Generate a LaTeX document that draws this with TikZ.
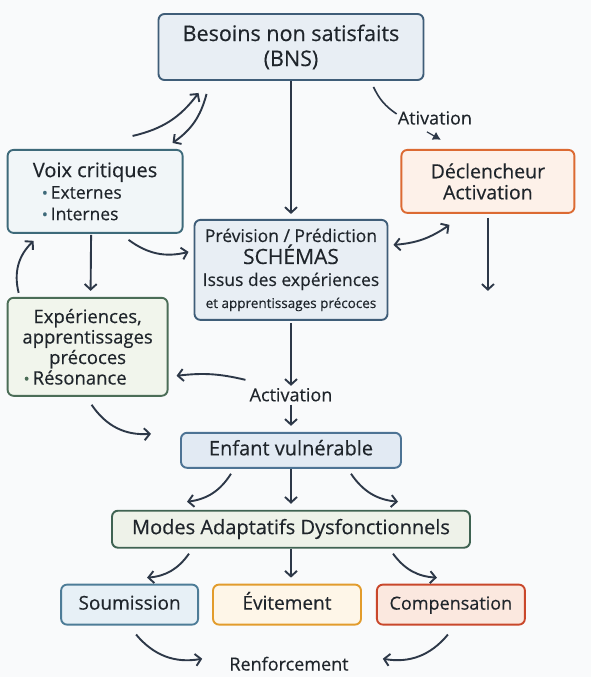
\documentclass[tikz,border=0pt]{standalone}
\usepackage{fontspec}
\setmainfont{Open Sans}[FakeBold=0.35]
\usepackage{xcolor}
\usepackage{tikz}
\usetikzlibrary{arrows.meta}
\usetikzlibrary{positioning}

\definecolor{ink}{HTML}{2D3848}
\definecolor{txt}{HTML}{1F252B}
\definecolor{bgc}{HTML}{F9FAFB}
\definecolor{bluedraw}{HTML}{3F5D78}
\definecolor{bluefill}{HTML}{E8EEF4}
\definecolor{tealdraw}{HTML}{3E6A7A}
\definecolor{tealfill}{HTML}{F1F6F8}
\definecolor{orgdraw}{HTML}{DC6A32}
\definecolor{orgfill}{HTML}{FDF1E9}
\definecolor{grndraw}{HTML}{4B6D57}
\definecolor{grnfill}{HTML}{F1F5EC}
\definecolor{enfdraw}{HTML}{4D7394}
\definecolor{enffill}{HTML}{E2EAF3}
\definecolor{moddraw}{HTML}{3F6352}
\definecolor{modfill}{HTML}{EEF2E9}
\definecolor{soudraw}{HTML}{4D7C97}
\definecolor{soufill}{HTML}{E7F0F6}
\definecolor{evidraw}{HTML}{E29C2C}
\definecolor{evifill}{HTML}{FEF6E8}
\definecolor{comdraw}{HTML}{C9472B}
\definecolor{comfill}{HTML}{FBE8DF}

\newcommand{\puce}[1]{{\fontsize{16}{16}\selectfont\textcolor{#1}{•}}\,}

\begin{document}
\begin{tikzpicture}[x=1pt,y=1pt]
    \tikzstyle{every node}=[inner sep=0pt,text=txt]
    \tikzstyle{wnode}=[draw,rounded corners=6pt,line width=1.9pt,align=center,font=\fontsize{20}{24}\selectfont]
    \tikzstyle{lbl}=[font=\fontsize{18}{20}\selectfont]
    \tikzstyle{fixh}=[text height=14pt,text depth=4pt]
    \tikzstyle{arr}=[draw=ink,line width=1.9pt,-{Straight Barb[length=5.5pt,width=12pt]}]
    \tikzstyle{darr}=[draw=ink,line width=1.9pt,{Straight Barb[length=5.5pt,width=12pt]}-{Straight Barb[length=5.5pt,width=12pt]}]

    \fill[bgc] (0,0) rectangle (591,-677);

    \node[wnode,draw=bluedraw,fill=bluefill,minimum width=265pt,minimum height=66pt,
          font=\fontsize{21.5}{25}\selectfont] (bns) at (291,-47) {Besoins non satisfaits\\(BNS)} ;
    \node[wnode,draw=bluedraw,fill=bluefill,minimum width=193pt,minimum height=100pt,
          font=\fontsize{17.5}{22}\selectfont,below=138pt of bns] (prev)
          {Prévision / Prédiction\\ \fontsize{21}{26}\selectfont SCHÉMAS\\
           Issus des expériences\\ \fontsize{13.5}{18}\selectfont et apprentissages précoces} ;
    \node[lbl,below=67pt of prev] (act) {Activation} ;
    \node[wnode,draw=enfdraw,fill=enffill,minimum width=220pt,minimum height=35pt,fixh,
          below=111pt of prev] (enfant) {Enfant vulnérable} ;
    \node[wnode,draw=moddraw,fill=modfill,minimum width=358pt,minimum height=37pt,fixh,
          below=41pt of enfant] (modes) {Modes Adaptatifs Dysfonctionnels} ;
    \node[wnode,draw=evidraw,fill=evifill,minimum width=148pt,minimum height=40pt,fixh,
          font=\fontsize{19}{22}\selectfont,below=35pt of modes,xshift=-4pt] (evit) {Évitement} ;
    \node[wnode,draw=soudraw,fill=soufill,minimum width=137pt,minimum height=40pt,fixh,
          font=\fontsize{19}{22}\selectfont,left=13pt of evit] (soum) {Soumission} ;
    \node[wnode,draw=comdraw,fill=comfill,minimum width=148pt,minimum height=40pt,fixh,
          font=\fontsize{18}{22}\selectfont,right=14pt of evit] (comp) {Compensation} ;
    \node[lbl,below=31pt of evit,xshift=2pt] (renf) {Renforcement} ;

    \node[wnode,draw=tealdraw,fill=tealfill,minimum width=175pt,minimum height=83pt,anchor=north east,
          align=left,font=\fontsize{17.5}{21.5}\selectfont]
          (voix) at ([xshift=-10pt,yshift=70pt]prev.north west)
          {{\fontsize{20}{22}\selectfont Voix critiques}\\ \hspace*{9pt}\puce{tealdraw}Externes\\
           \hspace*{9pt}\puce{tealdraw}Internes} ;
    \node[wnode,draw=grndraw,fill=grnfill,minimum width=160pt,minimum height=98pt,anchor=north west,
          font=\fontsize{18.5}{20.5}\selectfont]
          (exp) at ([yshift=-63pt]voix.south west)
          {Expériences,\\apprentissages\\précoces\\ \makebox[104pt][l]{\puce{grndraw}Résonance}\hspace*{24pt}} ;
    \node[wnode,draw=orgdraw,fill=orgfill,minimum width=173pt,minimum height=63pt,anchor=north west,
          font=\fontsize{19.5}{21}\selectfont]
          (decl) at ([xshift=12pt,yshift=70pt]prev.north east) {Déclencheur\\Activation} ;
    \node[lbl] (ativ) at ([xshift=-53pt,yshift=31pt]decl.north) {Ativation} ;
    \coordinate (declout) at ([yshift=-77pt]decl.south) ;

    \newcommand{\fan}[5]{%
      \draw[arr] ([xshift=-#2,yshift=-5pt]#1.south) to[bend left=25] (#3) ;
      \draw[arr] (#1.south) -- (#4) ;
      \draw[arr] ([xshift=#2,yshift=-5pt]#1.south) to[bend right=25] (#5) ;}

    \draw[arr,shorten >=5pt] (bns.south) -- (prev.north) ;
    \draw[arr] ([xshift=37.5pt,yshift=13pt]voix.north) to[bend right=20] ([xshift=41pt,yshift=-12pt]bns.south west) ;
    \draw[arr] ([xshift=49pt,yshift=-13pt]bns.south west) to[bend left=20] ([xshift=-11pt,yshift=6pt]voix.north east) ;
    \draw[draw=ink,line width=1.6pt] ([xshift=-51pt,yshift=-6pt]bns.south east) to[bend right=15] ([xshift=-1pt,yshift=4pt]ativ.west) ;
    \draw[draw=ink,line width=1.2pt,-{Latex[length=8pt,width=9pt]}] ([xshift=-8pt,yshift=-7pt]ativ.south) -- ([xshift=6pt,yshift=-15pt]ativ.south) ;
    \draw[arr] ([yshift=-4pt]decl.south) -- (declout) ;
    \draw[darr] ([xshift=5pt,yshift=25pt]prev.east) to[bend right=15] ([xshift=49pt,yshift=-11pt]decl.south west) ;
    \draw[arr] ([xshift=-55pt,yshift=-6pt]voix.south east) to[bend right=25] ([xshift=-5pt,yshift=18pt]prev.west) ;
    \draw[arr] ([xshift=-4pt,yshift=-1pt]voix.south) -- ([xshift=3pt,yshift=6pt]exp.north) ;
    \draw[arr] ([xshift=12pt,yshift=4pt]exp.north west) to[bend left=30] ([xshift=27pt,yshift=-7pt]voix.south west) ;
    \draw[arr] ([yshift=-2pt]prev.south) -- ([yshift=2pt]act.north) ;
    \draw[arr] ([xshift=-4pt,yshift=8pt]act.north west) to[bend right=10] ([xshift=8pt,yshift=-29pt]exp.east) ;
    \draw[arr] ([yshift=-3pt]act.south) -- ([yshift=6pt]enfant.north) ;
    \draw[arr] ([xshift=4pt,yshift=-8pt]exp.south) to[bend right=30] ([xshift=-29pt,yshift=16.5pt]enfant.west) ;

    \fan{enfant}{60pt}{[xshift=-104pt,yshift=8pt]modes.north}{[yshift=6pt]modes.north}{[xshift=107pt,yshift=8pt]modes.north}
    \fan{modes}{102pt}{[xshift=17.5pt,yshift=6pt]soum.north}{[xshift=4pt,yshift=6pt]evit.north}{[xshift=-14pt,yshift=6pt]comp.north}

    \draw[arr] ([xshift=6.5pt,yshift=-9pt]soum.south) to[bend right=30] ([xshift=-27pt,yshift=5pt]renf.west) ;
    \draw[arr] ([xshift=-3pt,yshift=-9pt]comp.south) to[bend left=30] ([xshift=34pt,yshift=5pt]renf.east) ;

    \useasboundingbox (0,0) rectangle (591,-677);
\end{tikzpicture}
\end{document}
